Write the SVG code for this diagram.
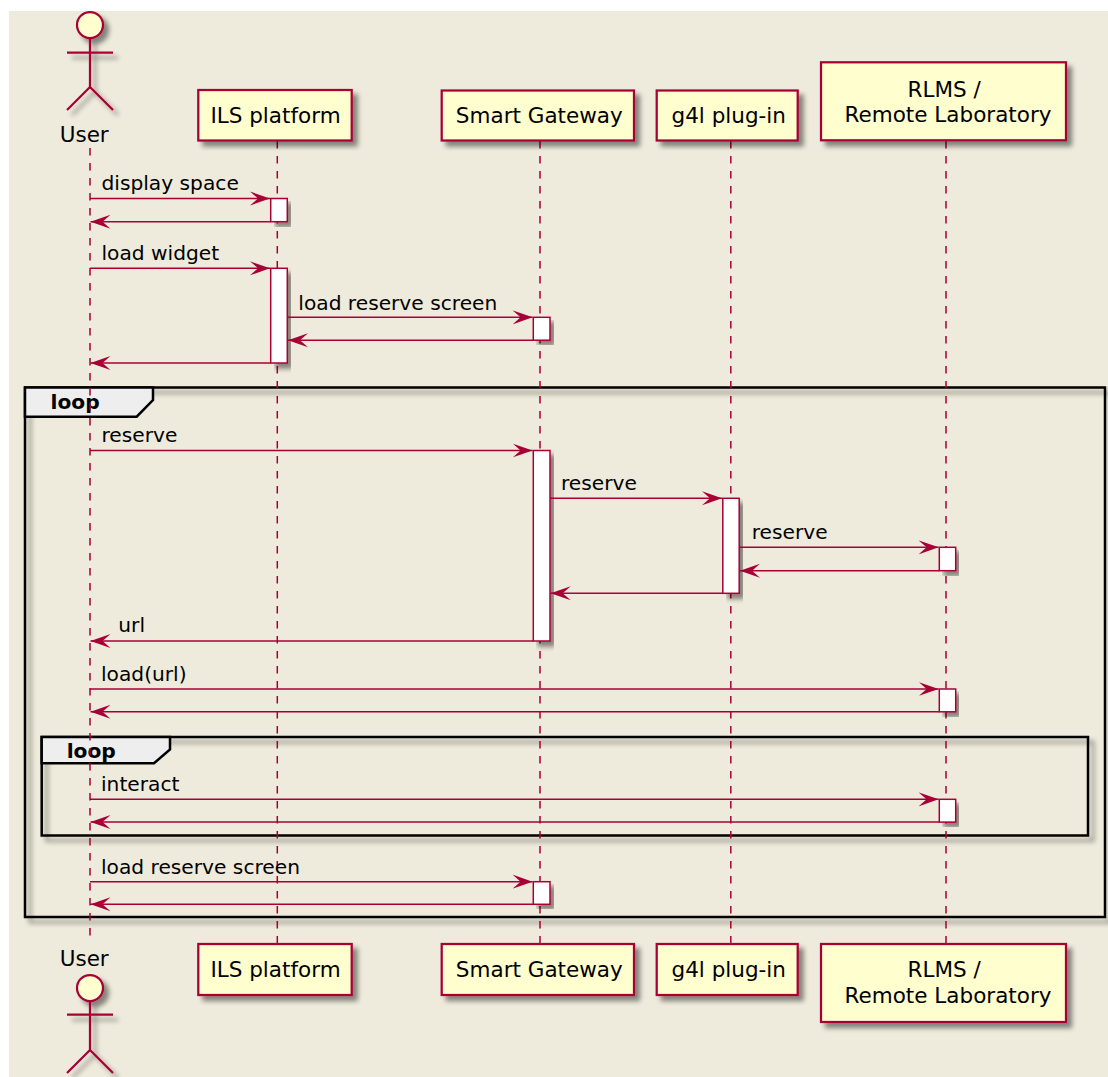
<svg xmlns="http://www.w3.org/2000/svg" width="1108" height="1077" viewBox="0 0 1108 1077">
<defs>
<filter id="sh" x="-10%" y="-10%" width="130%" height="130%">
<feGaussianBlur in="SourceAlpha" stdDeviation="2.5" result="b"/>
<feOffset in="b" dx="5" dy="5" result="o"/>
<feComponentTransfer in="o" result="s"><feFuncA type="linear" slope="0.45"/></feComponentTransfer>
<feMerge><feMergeNode in="s"/><feMergeNode in="SourceGraphic"/></feMerge>
</filter>
<marker id="ah" viewBox="0 0 21 15" refX="20" refY="7.5" markerWidth="21" markerHeight="15" markerUnits="userSpaceOnUse" orient="auto">
<path d="M0,0.5 L20,7.5 L0,14.5 L8,7.5 Z" fill="#A80036"/>
</marker>
<style>
.bg{fill:#EEEBDC}
.life{stroke:#A80036;stroke-width:1.5;stroke-dasharray:7.5,7.5;fill:none}
.part{fill:#FEFECE;stroke:#A80036;stroke-width:2.25}
.act{fill:#FFFFFF;stroke:#A80036;stroke-width:1.5}
.msg{stroke:#A80036;stroke-width:1.5;fill:none;marker-end:url(#ah)}
.actor{fill:none;stroke:#A80036;stroke-width:2.25}
.head{fill:#FEFECE;stroke:#A80036;stroke-width:2.25}
.frame{fill:none;stroke:#000;stroke-width:2.5}
.tab{fill:#EEEEEE;stroke:#000;stroke-width:2.5}
.pt{font-family:"DejaVu Sans",Verdana,sans-serif;font-size:21.5px;fill:#000;text-anchor:middle}
.mt{font-family:"DejaVu Sans",Verdana,sans-serif;font-size:20.2px;fill:#000}
.lt{font-family:"DejaVu Sans",Verdana,sans-serif;font-size:20.2px;font-weight:bold;fill:#000}
</style>
</defs>
<rect x="0" y="0" width="1108" height="1077" fill="#FFFFFF"/>
<rect class="bg" x="9" y="11" width="1099" height="1066"/>

<g id="frames">
<g id="loop-outer">
<rect class="frame" x="25" y="387.5" width="1080" height="529.5" filter="url(#sh)"/>
<polygon class="tab" points="25,387.5 153,387.5 153,400 136.7,416.7 25,416.7"/>
<text class="lt" x="50.5" y="409">loop</text>
</g>
<g id="loop-inner">
<rect class="frame" x="41.7" y="737" width="1046.3" height="98.5" filter="url(#sh)"/>
<polygon class="tab" points="41.7,737 170,737 170,749.5 154,763.3 41.7,763.3"/>
<text class="lt" x="66.7" y="758">loop</text>
</g>
</g>

<g id="lifelines">
<line class="life" x1="90" y1="148" x2="90" y2="942"/>
<line class="life" x1="277.3" y1="141" x2="277.3" y2="944"/>
<line class="life" x1="540" y1="141" x2="540" y2="944"/>
<line class="life" x1="730.8" y1="141" x2="730.8" y2="944"/>
<line class="life" x1="946" y1="141" x2="946" y2="944"/>
</g>

<g id="user-top">
<g filter="url(#sh)">
<circle class="head" cx="90" cy="25" r="13"/>
<path class="actor" d="M90,38 V87 M67,52.5 H113 M90,87 L67,110 M90,87 L113,110"/>
</g>
<text class="pt" x="84.2" y="142">User</text>
</g>
<g id="user-bottom">
<text class="pt" x="84.2" y="966">User</text>
<g filter="url(#sh)">
<circle class="head" cx="90" cy="988" r="13"/>
<path class="actor" d="M90,1001 V1050 M67,1014.5 H113 M90,1050 L67,1073 M90,1050 L113,1073"/>
</g>
</g>

<g id="ils-top"><rect class="part" x="198.3" y="90" width="153.4" height="50.5" filter="url(#sh)"/><text class="pt" x="275.5" y="123.3">ILS platform</text></g>
<g id="sg-top"><rect class="part" x="441.7" y="90.5" width="192.3" height="50" filter="url(#sh)"/><text class="pt" x="539.3" y="123.3">Smart Gateway</text></g>
<g id="g4l-top"><rect class="part" x="656.7" y="90.5" width="141" height="50" filter="url(#sh)"/><text class="pt" x="728.7" y="123.3">g4l plug-in</text></g>
<g id="rlms-top"><rect class="part" x="821" y="62.3" width="245" height="78" filter="url(#sh)"/><text class="pt" x="944.2" y="96.7">RLMS /</text><text class="pt" x="948" y="122">Remote Laboratory</text></g>

<g id="ils-bottom"><rect class="part" x="198.3" y="944" width="153.4" height="51" filter="url(#sh)"/><text class="pt" x="275.5" y="977">ILS platform</text></g>
<g id="sg-bottom"><rect class="part" x="441.7" y="944" width="192.3" height="51" filter="url(#sh)"/><text class="pt" x="539.3" y="977">Smart Gateway</text></g>
<g id="g4l-bottom"><rect class="part" x="656.7" y="944" width="141" height="51" filter="url(#sh)"/><text class="pt" x="728.7" y="977">g4l plug-in</text></g>
<g id="rlms-bottom"><rect class="part" x="821" y="944" width="245" height="78" filter="url(#sh)"/><text class="pt" x="944.2" y="977">RLMS /</text><text class="pt" x="948" y="1003.3">Remote Laboratory</text></g>

<g id="activations">
<rect class="act" x="270.7" y="198.5" width="16.6" height="23.2" filter="url(#sh)"/>
<rect class="act" x="270.7" y="268.3" width="16.6" height="94.7" filter="url(#sh)"/>
<rect class="act" x="533.3" y="317.3" width="16.7" height="22.9" filter="url(#sh)"/>
<rect class="act" x="533.3" y="450.5" width="16.7" height="190.5" filter="url(#sh)"/>
<rect class="act" x="722.8" y="498.3" width="16.4" height="95" filter="url(#sh)"/>
<rect class="act" x="939.3" y="547.3" width="16.4" height="23.4" filter="url(#sh)"/>
<rect class="act" x="939.3" y="689" width="16.4" height="22.8" filter="url(#sh)"/>
<rect class="act" x="939.3" y="799.3" width="16.4" height="22.8" filter="url(#sh)"/>
<rect class="act" x="533.3" y="881.7" width="16.7" height="22.6" filter="url(#sh)"/>
</g>

<g id="connectors">
<line class="msg" x1="90" y1="198.5" x2="270" y2="198.5"/>
<text class="mt" x="101.5" y="190">display space</text>
<line class="msg" x1="270.7" y1="221.7" x2="90.5" y2="221.7"/>

<line class="msg" x1="90" y1="268.3" x2="270" y2="268.3"/>
<text class="mt" x="101.5" y="259.5">load widget</text>
<line class="msg" x1="287.3" y1="317.3" x2="532.6" y2="317.3"/>
<text class="mt" x="298.3" y="309.5">load reserve screen</text>
<line class="msg" x1="533.3" y1="340.2" x2="288" y2="340.2"/>
<line class="msg" x1="270.7" y1="363" x2="90.5" y2="363"/>

<line class="msg" x1="90" y1="450.5" x2="532.6" y2="450.5"/>
<text class="mt" x="101.5" y="441.7">reserve</text>
<line class="msg" x1="550" y1="498.3" x2="722" y2="498.3"/>
<text class="mt" x="561" y="490">reserve</text>
<line class="msg" x1="739.2" y1="547.3" x2="938.6" y2="547.3"/>
<text class="mt" x="751.7" y="538.5">reserve</text>
<line class="msg" x1="939.3" y1="570.7" x2="740" y2="570.7"/>
<line class="msg" x1="722.8" y1="593.3" x2="550.7" y2="593.3"/>
<line class="msg" x1="533.3" y1="641" x2="90.5" y2="641"/>
<text class="mt" x="118.3" y="631.7">url</text>

<line class="msg" x1="90" y1="689" x2="938.6" y2="689"/>
<text class="mt" x="101" y="680.5">load(url)</text>
<line class="msg" x1="939.3" y1="711.8" x2="90.5" y2="711.8"/>

<line class="msg" x1="90" y1="799.3" x2="938.6" y2="799.3"/>
<text class="mt" x="101" y="791">interact</text>
<line class="msg" x1="939.3" y1="822.1" x2="90.5" y2="822.1"/>

<line class="msg" x1="90" y1="881.7" x2="532.6" y2="881.7"/>
<text class="mt" x="101" y="874">load reserve screen</text>
<line class="msg" x1="533.3" y1="904.3" x2="90.5" y2="904.3"/>
</g>
</svg>
